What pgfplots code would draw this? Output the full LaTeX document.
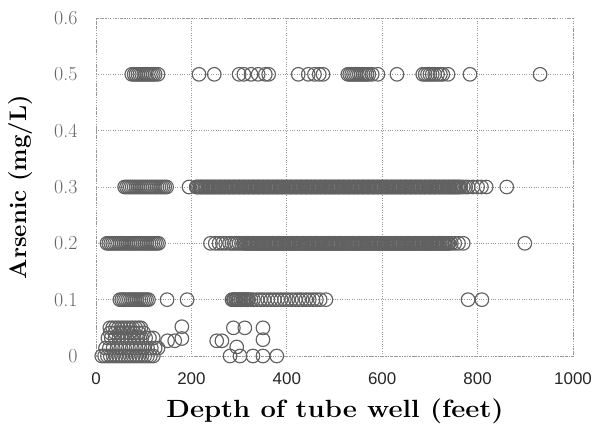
\documentclass[border=0pt]{standalone}
\usepackage{fontspec}
\newfontfamily\arialf{Liberation Sans}
\usepackage{pgfplots}
\usepackage{graphicx}
\pgfplotsset{compat=1.18}
\pgfplotsset{pts/.style={only marks, mark=o, mark size=6.8bp, mark options={draw=black!62, line width=1.15pt, fill=none}}}
\begin{document}
\begin{tikzpicture}
\path[use as bounding box] (0,0) rectangle (595bp,439bp);
\begin{axis}[
  at={(96bp,83bp)}, anchor=south west,
  scale only axis, width=477bp, height=338bp,
  xmin=0, xmax=1000, ymin=0, ymax=0.6,
  xtick={0,200,400,600,800,1000},
  ytick={0,0.1,0.2,0.3,0.4,0.5,0.6},
  yticklabels={0,0.1,0.2,0.3,0.4,0.5,0.6},
  xticklabels={0,200,400,600,800,1000},
  major tick length=0pt,
  /pgf/number format/assume math mode=true,
  grid=major,
  major grid style={dotted, black!40, line width=0.7pt},
  axis line style={dotted, black!40, line width=0.7pt},
  clip=false,
  xticklabel style={font=\arialf\fontsize{17}{19}\selectfont, text=black!85, yshift=-13bp},
  yticklabel style={font=\fontsize{20}{22}\selectfont, text=black!60, xshift=-15bp},
  xlabel={\scalebox{1.1}[1]{Depth of tube well (feet)}},
  ylabel={Arsenic (mg/L)},
  xlabel style={font=\bfseries\fontsize{25}{28}\selectfont, at={(axis description cs:0.501,0)}, anchor=center, yshift=-55bp},
  ylabel style={font=\bfseries\fontsize{24}{27}\selectfont, at={(axis description cs:-0.158,0.5)}, anchor=center},
]
\addplot[pts] coordinates {
(75,0.5)(80,0.5)(84,0.5)(88,0.5)(92,0.5)(96,0.5)(100,0.5)(104,0.5)(108,0.5)(112,0.5)(116,0.5)(120,0.5)(124,0.5)(130,0.5)
(216,0.5)(248,0.5)(300,0.5)(310,0.5)(325,0.5)(340,0.5)(355,0.5)(362,0.5)
(424,0.5)(445,0.5)(458,0.5)(468,0.5)(476,0.5)
(528,0.5)(532,0.5)(536,0.5)(540,0.5)(544,0.5)(548,0.5)(552,0.5)(556,0.5)(560,0.5)(564,0.5)(568,0.5)(572,0.5)(579,0.5)(591,0.5)(631,0.5)
(685,0.5)(690,0.5)(695,0.5)(700,0.5)(705,0.5)(710,0.5)(716,0.5)(722,0.5)(727,0.5)(738,0.5)(784,0.5)(931,0.5)
};
\addplot[pts] coordinates {
(60,0.3)(64,0.3)(68,0.3)(72,0.3)(76,0.3)(80,0.3)(84,0.3)(88,0.3)(92,0.3)(96,0.3)(100,0.3)(104,0.3)(108,0.3)(112,0.3)(116,0.3)(120,0.3)(124,0.3)(128,0.3)(132,0.3)(136,0.3)(140,0.3)(144,0.3)(148,0.3)
(195,0.3)
(210,0.3)(215,0.3)(220,0.3)(225,0.3)(230,0.3)(235,0.3)(240,0.3)(245,0.3)(250,0.3)(255,0.3)(260,0.3)(265,0.3)(270,0.3)(275,0.3)(280,0.3)(285,0.3)(290,0.3)(295,0.3)(300,0.3)(305,0.3)
(310,0.3)(315,0.3)(320,0.3)(325,0.3)(330,0.3)(335,0.3)(340,0.3)(345,0.3)(350,0.3)(355,0.3)(360,0.3)(365,0.3)(370,0.3)(375,0.3)(380,0.3)(385,0.3)(390,0.3)(395,0.3)(400,0.3)(405,0.3)
(410,0.3)(415,0.3)(420,0.3)(425,0.3)(430,0.3)(435,0.3)(440,0.3)(445,0.3)(450,0.3)(455,0.3)(460,0.3)(465,0.3)(470,0.3)(475,0.3)(480,0.3)(485,0.3)(490,0.3)(495,0.3)(500,0.3)(505,0.3)
(510,0.3)(515,0.3)(520,0.3)(525,0.3)(530,0.3)(535,0.3)(540,0.3)(545,0.3)(550,0.3)(555,0.3)(560,0.3)(565,0.3)(570,0.3)(575,0.3)(580,0.3)(585,0.3)(590,0.3)(595,0.3)(600,0.3)(605,0.3)
(610,0.3)(615,0.3)(620,0.3)(625,0.3)(630,0.3)(635,0.3)(640,0.3)(645,0.3)(650,0.3)(655,0.3)(660,0.3)(665,0.3)(670,0.3)(675,0.3)(680,0.3)(685,0.3)(690,0.3)(695,0.3)(700,0.3)(705,0.3)
(710,0.3)(715,0.3)(720,0.3)(725,0.3)(730,0.3)(735,0.3)(740,0.3)(745,0.3)(750,0.3)(755,0.3)(760,0.3)(765,0.3)(770,0.3)(775,0.3)(780,0.3)
(790,0.3)(800,0.3)(808,0.3)(818,0.3)(861,0.3)
(212,0.3)(218,0.3)(222,0.3)(228,0.3)(232,0.3)(238,0.3)(242,0.3)(248,0.3)(252,0.3)(258,0.3)(262,0.3)(268,0.3)(272,0.3)(278,0.3)(282,0.3)(288,0.3)(292,0.3)(298,0.3)(302,0.3)(308,0.3)
(312,0.3)(318,0.3)(322,0.3)(328,0.3)(332,0.3)(338,0.3)(342,0.3)(348,0.3)(352,0.3)(358,0.3)(362,0.3)(368,0.3)(372,0.3)(378,0.3)(382,0.3)(388,0.3)(392,0.3)(398,0.3)(402,0.3)(408,0.3)
(412,0.3)(418,0.3)(422,0.3)(428,0.3)(432,0.3)(438,0.3)(442,0.3)(448,0.3)(452,0.3)(458,0.3)(462,0.3)(468,0.3)(472,0.3)(478,0.3)(482,0.3)(488,0.3)(492,0.3)(498,0.3)(502,0.3)(508,0.3)
(512,0.3)(518,0.3)(522,0.3)(528,0.3)(532,0.3)(538,0.3)(542,0.3)(548,0.3)(552,0.3)(558,0.3)(562,0.3)(568,0.3)(572,0.3)(578,0.3)(582,0.3)(588,0.3)(592,0.3)(598,0.3)(602,0.3)(608,0.3)
(612,0.3)(618,0.3)(622,0.3)(628,0.3)(632,0.3)(638,0.3)(642,0.3)(648,0.3)(652,0.3)(658,0.3)(662,0.3)(668,0.3)(672,0.3)(678,0.3)(682,0.3)(688,0.3)(692,0.3)(698,0.3)(702,0.3)(708,0.3)
(712,0.3)(718,0.3)(722,0.3)(728,0.3)(732,0.3)(738,0.3)(742,0.3)(748,0.3)(752,0.3)(758,0.3)(762,0.3)
};
\addplot[pts] coordinates {
(23,0.2)(27,0.2)(31,0.2)(35,0.2)(39,0.2)(43,0.2)(47,0.2)(51,0.2)(55,0.2)(59,0.2)(63,0.2)(67,0.2)(71,0.2)(75,0.2)(79,0.2)(83,0.2)(87,0.2)(91,0.2)(95,0.2)(99,0.2)(103,0.2)(107,0.2)(111,0.2)(115,0.2)(119,0.2)(123,0.2)(127,0.2)(131,0.2)
(240,0.2)(250,0.2)(258,0.2)(265,0.2)(272,0.2)(280,0.2)(285,0.2)(290,0.2)(295,0.2)(300,0.2)(305,0.2)
(310,0.2)(315,0.2)(320,0.2)(325,0.2)(330,0.2)(335,0.2)(340,0.2)(345,0.2)(350,0.2)(355,0.2)(360,0.2)(365,0.2)(370,0.2)(375,0.2)(380,0.2)(385,0.2)(390,0.2)(395,0.2)(400,0.2)(405,0.2)
(410,0.2)(415,0.2)(420,0.2)(425,0.2)(430,0.2)(435,0.2)(440,0.2)(445,0.2)(450,0.2)(455,0.2)(460,0.2)(465,0.2)(470,0.2)(475,0.2)(480,0.2)(485,0.2)(490,0.2)(495,0.2)(500,0.2)(505,0.2)
(510,0.2)(515,0.2)(520,0.2)(525,0.2)(530,0.2)(535,0.2)(540,0.2)(545,0.2)(550,0.2)(555,0.2)(560,0.2)(565,0.2)(570,0.2)(575,0.2)(580,0.2)(585,0.2)(590,0.2)(595,0.2)(600,0.2)(605,0.2)
(610,0.2)(615,0.2)(620,0.2)(625,0.2)(630,0.2)(635,0.2)(640,0.2)(645,0.2)(650,0.2)(655,0.2)(660,0.2)(665,0.2)(670,0.2)(675,0.2)(680,0.2)(685,0.2)(690,0.2)(695,0.2)(700,0.2)(705,0.2)
(710,0.2)(715,0.2)(720,0.2)(725,0.2)(730,0.2)(735,0.2)(740,0.2)(745,0.2)(752,0.2)(760,0.2)(770,0.2)
(899,0.2)
(312,0.2)(318,0.2)(322,0.2)(328,0.2)(332,0.2)(338,0.2)(342,0.2)(348,0.2)(352,0.2)(358,0.2)(362,0.2)(368,0.2)(372,0.2)(378,0.2)(382,0.2)(388,0.2)(392,0.2)(398,0.2)(402,0.2)(408,0.2)
(412,0.2)(418,0.2)(422,0.2)(428,0.2)(432,0.2)(438,0.2)(442,0.2)(448,0.2)(452,0.2)(458,0.2)(462,0.2)(468,0.2)(472,0.2)(478,0.2)(482,0.2)(488,0.2)(492,0.2)(498,0.2)(502,0.2)(508,0.2)
(512,0.2)(518,0.2)(522,0.2)(528,0.2)(532,0.2)(538,0.2)(542,0.2)(548,0.2)(552,0.2)(558,0.2)(562,0.2)(568,0.2)(572,0.2)(578,0.2)(582,0.2)(588,0.2)(592,0.2)(598,0.2)(602,0.2)(608,0.2)
(612,0.2)(618,0.2)(622,0.2)(628,0.2)(632,0.2)(638,0.2)(642,0.2)(648,0.2)(652,0.2)(658,0.2)(662,0.2)(668,0.2)(672,0.2)(678,0.2)(682,0.2)(688,0.2)(692,0.2)(698,0.2)(702,0.2)(708,0.2)
(712,0.2)(718,0.2)(722,0.2)(728,0.2)(732,0.2)(738,0.2)
};
\addplot[pts] coordinates {
(50,0.1)(54,0.1)(58,0.1)(62,0.1)(66,0.1)(70,0.1)(74,0.1)(78,0.1)(82,0.1)(86,0.1)(90,0.1)(94,0.1)(98,0.1)(102,0.1)(106,0.1)(110,0.1)
(149,0.1)(191,0.1)
(285,0.1)(290,0.1)(295,0.1)(300,0.1)(305,0.1)(310,0.1)(315,0.1)(320,0.1)(325,0.1)(330,0.1)
(288,0.1)(293,0.1)(298,0.1)(303,0.1)(308,0.1)(313,0.1)(318,0.1)
(338,0.1)(345,0.1)(352,0.1)(360,0.1)(367,0.1)(374,0.1)(381,0.1)(388,0.1)(395,0.1)(402,0.1)(410,0.1)(418,0.1)(425,0.1)(432,0.1)(440,0.1)(447,0.1)(455,0.1)(462,0.1)(470,0.1)(482,0.1)
(780,0.1)(809,0.1)
};
\addplot[pts] coordinates {
(29,0.05)(35,0.05)(41,0.05)(47,0.05)(53,0.05)(59,0.05)(65,0.05)(71,0.05)(77,0.05)(83,0.05)(89,0.05)(94,0.05)
(30,0.041)(40,0.041)(50,0.041)(60,0.041)(70,0.041)(80,0.041)(90,0.041)(100,0.041)
(25,0.032)(32,0.032)(40,0.032)(48,0.032)(56,0.032)(64,0.032)(72,0.032)(80,0.032)(88,0.032)(96,0.032)(104,0.032)(112,0.032)(120,0.032)
(20,0.014)(28,0.014)(36,0.014)(44,0.014)(52,0.014)(60,0.014)(68,0.014)(76,0.014)(84,0.014)(92,0.014)(100,0.014)(108,0.014)(116,0.014)(124,0.014)(130,0.014)
(12,0)(18,0)(24,0)(30,0)(36,0)(42,0)(48,0)(54,0)(60,0)(66,0)(72,0)(78,0)(84,0)(90,0)(96,0)(102,0)(108,0)(114,0)(120,0)
(150,0.027)(165,0.027)(180,0.052)(180,0.031)
(253,0.027)(264,0.027)(288,0.05)(312,0.05)(350,0.05)(350,0.029)(295,0.016)
(281,0)(302,0)(329,0)(350,0)(379,0)
};
\end{axis}
\end{tikzpicture}
\end{document}
